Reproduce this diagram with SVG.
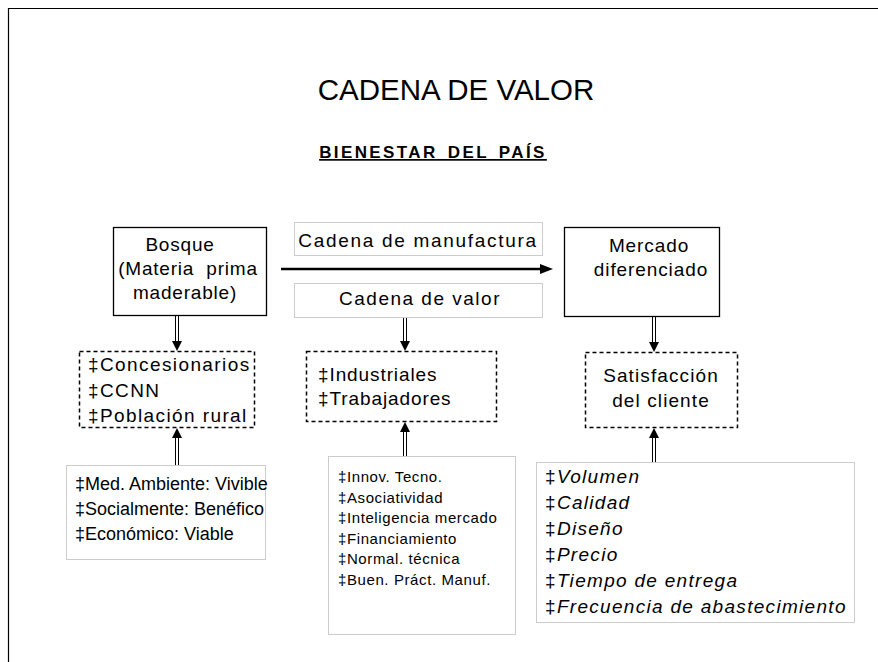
<svg xmlns="http://www.w3.org/2000/svg" width="878" height="662" viewBox="0 0 878 662">
<defs>
<style>
text{font-family:"Liberation Sans",Arial,sans-serif;fill:#000}
.solid{fill:#fff;stroke:#000;stroke-width:1.3}
.dash{fill:#fff;stroke:#000;stroke-width:1.5;stroke-dasharray:4,3}
.dot{fill:#fff;stroke:#999;stroke-width:1;stroke-dasharray:1,1}
.dl{stroke:#000;stroke-width:1;fill:none}
.t19{font-size:19px}
.t18{font-size:18px}
.t15{font-size:15px;letter-spacing:0.6px}
.it{font-style:italic}
</style>
</defs>
<rect x="0" y="0" width="878" height="662" fill="#fff"/>
<path d="M878,8.5 H8.5 V662" fill="none" stroke="#000" stroke-width="1.2"/>
<text x="456" y="100" font-size="29.5" text-anchor="middle">CADENA DE VALOR</text>
<text x="433" y="158" font-size="17" font-weight="bold" letter-spacing="2.4" word-spacing="3" text-anchor="middle" text-decoration="underline">BIENESTAR DEL PAÍS</text>

<g id="bosque" class="t19" letter-spacing="0.8">
<rect class="solid" x="113.5" y="227.5" width="153" height="88"/>
<text x="180" y="251" text-anchor="middle">Bosque</text>
<text x="188" y="275" text-anchor="middle" word-spacing="6">(Materia prima</text>
<text x="185" y="299" text-anchor="middle">maderable)</text>
</g>
<g id="manufactura" class="t19" letter-spacing="1.7">
<rect class="dot" x="294.5" y="222.5" width="248" height="33"/>
<text x="418" y="247" text-anchor="middle">Cadena de manufactura</text>
</g>
<g id="cadena-valor" class="t19" letter-spacing="1.5">
<rect class="dot" x="294.5" y="283.5" width="248" height="34"/>
<text x="420" y="305" text-anchor="middle">Cadena de valor</text>
</g>
<g id="mercado" class="t19" letter-spacing="0.9">
<rect class="solid" x="564.5" y="227.5" width="155" height="89"/>
<text x="649" y="252" text-anchor="middle">Mercado</text>
<text x="651" y="276" text-anchor="middle">diferenciado</text>
</g>
<g id="actores1" class="t19" letter-spacing="1.4">
<rect class="dash" x="79.5" y="351.5" width="175" height="76"/>
<text x="88" y="371">‡Concesionarios</text>
<text x="88" y="397">‡CCNN</text>
<text x="88" y="422">‡Población rural</text>
</g>
<g id="actores2" class="t19" letter-spacing="0.9">
<rect class="dash" x="306.5" y="351.5" width="190" height="70"/>
<text x="318" y="381">‡Industriales</text>
<text x="318" y="405">‡Trabajadores</text>
</g>
<g id="satisfaccion" class="t19" letter-spacing="1.1">
<rect class="dash" x="585.5" y="352.5" width="152" height="75"/>
<text x="661" y="382" text-anchor="middle">Satisfacción</text>
<text x="661" y="407" text-anchor="middle">del cliente</text>
</g>
<g id="criterios1" class="t18">
<rect class="dot" x="66.5" y="465.5" width="199" height="94"/>
<text x="75" y="490">‡Med. Ambiente: Vivible</text>
<text x="75" y="515">‡Socialmente: Benéfico</text>
<text x="75" y="540">‡Económico: Viable</text>
</g>
<g id="criterios2" class="t15">
<rect class="dot" x="328.5" y="456.5" width="187" height="178"/>
<text x="338" y="482">‡Innov. Tecno.</text>
<text x="338" y="502.5">‡Asociatividad</text>
<text x="338" y="523">‡Inteligencia mercado</text>
<text x="338" y="543.5">‡Financiamiento</text>
<text x="338" y="564">‡Normal. técnica</text>
<text x="338" y="584.5">‡Buen. Práct. Manuf.</text>
</g>
<g id="criterios3" class="t19" letter-spacing="1.3">
<rect class="dot" x="536.5" y="462.5" width="318" height="160"/>
<text x="545" y="483">‡<tspan class="it">Volumen</tspan></text>
<text x="545" y="509">‡<tspan class="it">Calidad</tspan></text>
<text x="545" y="535">‡<tspan class="it">Diseño</tspan></text>
<text x="545" y="561">‡<tspan class="it">Precio</tspan></text>
<text x="545" y="587">‡<tspan class="it">Tiempo de entrega</tspan></text>
<text x="545" y="613">‡<tspan class="it">Frecuencia de abastecimiento</tspan></text>
</g>

<g id="connectors">
<line x1="281" y1="269" x2="542" y2="269" stroke="#000" stroke-width="2.5"/>
<path d="M540,264 L553,269 L540,274 z" fill="#000"/>
<path class="dl" d="M175.5,316 V342 M178.5,316 V342"/>
<path d="M172,341 L182,341 L177,351 z" fill="#000"/>
<path class="dl" d="M175.5,465 V438 M178.5,465 V438"/>
<path d="M172,438 L182,438 L177,428 z" fill="#000"/>

<path class="dl" d="M403.5,318 V342 M406.5,318 V342"/>
<path d="M400,341 L410,341 L405,351 z" fill="#000"/>
<path class="dl" d="M403.5,456 V432 M406.5,456 V432"/>
<path d="M400,432 L410,432 L405,422 z" fill="#000"/>

<path class="dl" d="M652.5,317 V343 M655.5,317 V343"/>
<path d="M649,342 L659,342 L654,352 z" fill="#000"/>
<path class="dl" d="M652.5,462 V438 M655.5,462 V438"/>
<path d="M649,438 L659,438 L654,428 z" fill="#000"/>
</g>
</svg>
